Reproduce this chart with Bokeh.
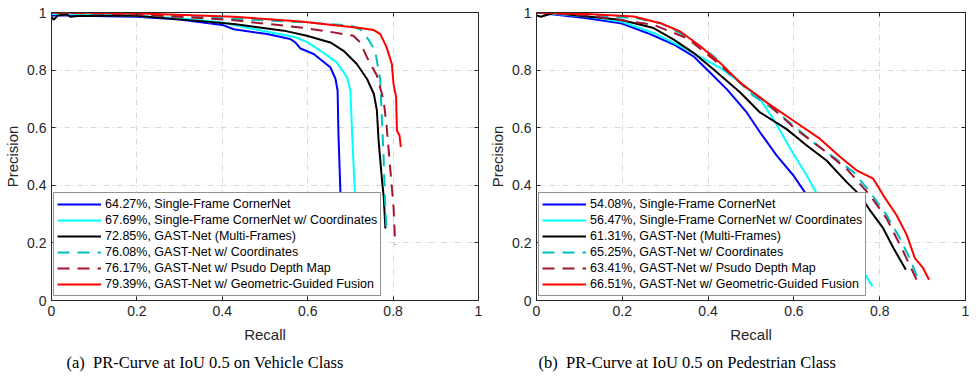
from bokeh.plotting import figure
from bokeh.layouts import row
from bokeh.models import Range1d, LinearAxis, FixedTicker, Title, Legend, CustomLabelingPolicy
from bokeh.embed import file_html
from bokeh.resources import INLINE

# ---------------- data ----------------
ticks = [0, 0.2, 0.4, 0.6, 0.8, 1]
tick_labels = ["0", "0.2", "0.4", "0.6", "0.8", "1"]

veh_labels = ["64.27%, Single-Frame CornerNet",
              "67.69%, Single-Frame CornerNet w/ Coordinates",
              "72.85%, GAST-Net (Multi-Frames)",
              "76.08%, GAST-Net w/ Coordinates",
              "76.17%, GAST-Net w/ Psudo Depth Map",
              "79.39%, GAST-Net w/ Geometric-Guided Fusion"]
ped_labels = ["54.08%, Single-Frame CornerNet",
              "56.47%, Single-Frame CornerNet w/ Coordinates",
              "61.31%, GAST-Net (Multi-Frames)",
              "65.25%, GAST-Net w/ Coordinates",
              "63.41%, GAST-Net w/ Psudo Depth Map",
              "66.51%, GAST-Net w/ Geometric-Guided Fusion"]

# Vehicle class
veh_sf_r = [0.0, 0.05, 0.1, 0.2, 0.3, 0.4, 0.427, 0.505, 0.559, 0.571, 0.583, 0.614, 0.653, 0.665, 0.670, 0.672, 0.677, 0.680]
veh_sf_p = [0.99, 0.99, 0.988, 0.985, 0.976, 0.957, 0.942, 0.925, 0.908, 0.896, 0.875, 0.856, 0.81, 0.77, 0.729, 0.579, 0.36, 0.25]
veh_sfc_r = [0.0, 0.1, 0.2, 0.3, 0.4, 0.5, 0.57, 0.6, 0.63, 0.668, 0.692, 0.700, 0.704, 0.711, 0.713]
veh_sfc_p = [0.995, 0.992, 0.988, 0.98, 0.965, 0.935, 0.915, 0.896, 0.867, 0.827, 0.775, 0.729, 0.579, 0.36, 0.25]
veh_mf_r = [0.0, 0.005, 0.015, 0.035, 0.045, 0.06, 0.19, 0.294, 0.427, 0.544, 0.598, 0.653, 0.684, 0.715, 0.739, 0.755, 0.762, 0.766, 0.774, 0.778, 0.782]
veh_mf_p = [0.985, 0.975, 0.99, 0.994, 0.985, 0.988, 0.99, 0.977, 0.96, 0.937, 0.919, 0.896, 0.867, 0.821, 0.769, 0.717, 0.66, 0.556, 0.418, 0.36, 0.25]
veh_co_r = [0.0, 0.2, 0.4, 0.6, 0.7, 0.723, 0.739, 0.758, 0.77, 0.774, 0.778, 0.781, 0.785]
veh_co_p = [1.0, 0.995, 0.98, 0.965, 0.955, 0.942, 0.913, 0.867, 0.764, 0.625, 0.487, 0.348, 0.233]
veh_dm_r = [0.0, 0.2, 0.3, 0.427, 0.583, 0.661, 0.707, 0.723, 0.739, 0.762, 0.778, 0.785, 0.793, 0.801, 0.805]
veh_dm_p = [1.0, 0.993, 0.985, 0.973, 0.948, 0.931, 0.919, 0.896, 0.844, 0.781, 0.694, 0.602, 0.464, 0.325, 0.193]
veh_gf_r = [0.0, 0.193, 0.427, 0.583, 0.723, 0.755, 0.77, 0.785, 0.797, 0.801, 0.807, 0.809, 0.815, 0.818]
veh_gf_p = [1.0, 0.997, 0.985, 0.969, 0.946, 0.939, 0.925, 0.879, 0.821, 0.752, 0.706, 0.59, 0.573, 0.533]

# Pedestrian class
ped_sf_r = [0.0, 0.118, 0.196, 0.258, 0.32, 0.366, 0.405, 0.444, 0.49, 0.521, 0.56, 0.599, 0.63, 0.68, 0.72]
ped_sf_p = [1.0, 0.98, 0.963, 0.929, 0.889, 0.848, 0.791, 0.733, 0.653, 0.584, 0.503, 0.434, 0.366, 0.28, 0.2]
ped_sfc_r = [0.0, 0.118, 0.196, 0.273, 0.351, 0.428, 0.475, 0.521, 0.552, 0.599, 0.63, 0.657, 0.70, 0.75, 0.783]
ped_sfc_p = [1.0, 0.986, 0.969, 0.929, 0.871, 0.808, 0.756, 0.699, 0.63, 0.509, 0.434, 0.36, 0.25, 0.13, 0.049]
ped_mf_r = [0.0, 0.01, 0.04, 0.118, 0.196, 0.273, 0.32, 0.366, 0.413, 0.475, 0.521, 0.583, 0.63, 0.676, 0.723, 0.754, 0.777, 0.808, 0.832, 0.861]
ped_mf_p = [0.99, 0.985, 0.998, 0.986, 0.975, 0.946, 0.906, 0.86, 0.802, 0.722, 0.653, 0.595, 0.538, 0.486, 0.411, 0.366, 0.314, 0.251, 0.182, 0.107]
ped_co_r = [0.0, 0.118, 0.234, 0.289, 0.351, 0.413, 0.459, 0.506, 0.552, 0.599, 0.645, 0.692, 0.739, 0.777, 0.816, 0.847, 0.87, 0.89]
ped_co_p = [1.0, 0.992, 0.98, 0.963, 0.917, 0.848, 0.779, 0.71, 0.664, 0.607, 0.549, 0.498, 0.446, 0.377, 0.297, 0.216, 0.147, 0.072]
ped_dm_r = [0.0, 0.118, 0.273, 0.351, 0.413, 0.475, 0.537, 0.599, 0.661, 0.723, 0.777, 0.816, 0.855, 0.886]
ped_dm_p = [1.0, 0.99, 0.957, 0.911, 0.837, 0.756, 0.687, 0.601, 0.532, 0.457, 0.366, 0.285, 0.17, 0.072]
ped_gf_r = [0.0, 0.118, 0.227, 0.289, 0.335, 0.382, 0.428, 0.475, 0.537, 0.599, 0.661, 0.708, 0.746, 0.785, 0.808, 0.839, 0.863, 0.882, 0.901, 0.915]
ped_gf_p = [1.0, 0.995, 0.986, 0.963, 0.934, 0.883, 0.825, 0.756, 0.687, 0.624, 0.561, 0.498, 0.452, 0.423, 0.366, 0.297, 0.228, 0.147, 0.113, 0.072]

colors = ["#0000ff", "#00ffff", "#000000", "#00bfbf", "#a2142f", "#ff0000"]
dashes = ["solid", "solid", "solid", "12 8", "12 8", "solid"]

SANS = "Liberation Sans"
SERIF = "Liberation Serif"
AX = "#262626"

HIDE_LABELS = "for (const i of indices) indices.unset(i)\nreturn indices"


def make_fig(width, bl, br, bt, bb, curves, labels, caption, cap_offset):
    p = figure(width=width, height=380, output_backend="svg", toolbar_location=None,
               x_range=Range1d(0, 1), y_range=Range1d(0, 1),
               min_border_left=bl, min_border_right=br, min_border_top=bt, min_border_bottom=bb,
               x_axis_label="Recall", y_axis_label="Precision")
    p.outline_line_color = AX
    p.outline_line_width = 1
    overrides = {t: l for t, l in zip(ticks, tick_labels)}
    for ax in p.xaxis + p.yaxis:
        ax.ticker = FixedTicker(ticks=ticks)
        ax.major_label_overrides = overrides
        ax.minor_tick_line_color = None
        ax.major_tick_in = 4
        ax.major_tick_out = 0
        ax.axis_line_color = AX
        ax.major_tick_line_color = AX
        ax.major_label_text_font = SANS
        ax.major_label_text_font_size = "14px"
        ax.major_label_text_color = AX
        ax.axis_label_text_font = SANS
        ax.axis_label_text_font_size = "15px"
        ax.axis_label_text_font_style = "normal"
        ax.axis_label_text_color = AX
        ax.major_label_standoff = 5
    p.xaxis.axis_label_standoff = 7
    p.yaxis.axis_label_standoff = 3
    # box ticks on top / right
    for loc in ("above", "right"):
        ax = LinearAxis(ticker=FixedTicker(ticks=ticks),
                        major_label_policy=CustomLabelingPolicy(code=HIDE_LABELS),
                        major_label_text_font_size="1px",
                        major_label_standoff=0, major_tick_in=4, major_tick_out=0,
                        minor_tick_line_color=None, axis_line_color=AX, major_tick_line_color=AX)
        p.add_layout(ax, loc)
    for g in (p.xgrid[0], p.ygrid[0]):
        g.ticker = FixedTicker(ticks=ticks)
        g.grid_line_color = "#d8d8d8"
        g.grid_line_dash = "6 3 1 3"
        g.grid_line_width = 1
    items = []
    for (r, pr), lab, c, d in zip(curves, labels, colors, dashes):
        rend = p.line(r, pr, line_color=c, line_width=2, line_dash=d)
        items.append((lab, [rend]))
    leg = Legend(items=items, location=(2, 4))
    leg.label_text_font = SANS
    leg.label_text_font_size = "12.5px"
    leg.label_text_color = "#000000"
    leg.glyph_width = 44
    leg.glyph_height = 16
    leg.label_height = 16
    leg.spacing = 0
    leg.padding = 3
    leg.margin = 0
    leg.label_standoff = 4
    leg.border_line_color = AX
    leg.border_line_width = 1
    leg.background_fill_alpha = 1
    p.add_layout(leg, "center")
    t = Title(text=caption, align="left", offset=cap_offset, text_font=SERIF,
              text_font_size="16.5px", text_font_style="normal", text_color="#000000", standoff=10)
    p.add_layout(t, "below")
    return p


veh_curves = [(veh_sf_r, veh_sf_p), (veh_sfc_r, veh_sfc_p), (veh_mf_r, veh_mf_p),
              (veh_co_r, veh_co_p), (veh_dm_r, veh_dm_p), (veh_gf_r, veh_gf_p)]
ped_curves = [(ped_sf_r, ped_sf_p), (ped_sfc_r, ped_sfc_p), (ped_mf_r, ped_mf_p),
              (ped_co_r, ped_co_p), (ped_dm_r, ped_dm_p), (ped_gf_r, ped_gf_p)]

p1 = make_fig(486, 51, 8, 12, 79, veh_curves, veh_labels,
              "(a)\u00a0 PR-Curve at IoU 0.5 on Vehicle Class", 15)
p2 = make_fig(490, 49, 11, 10, 80, ped_curves, ped_labels,
              "(b)\u00a0 PR-Curve at IoU 0.5 on Pedestrian Class", 2)

layout = row(p1, p2)
open("out.html", "w").write(file_html(layout, INLINE))
